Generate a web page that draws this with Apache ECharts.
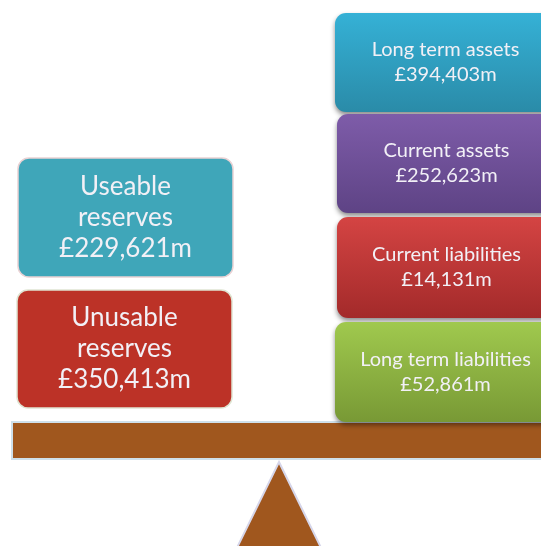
<!DOCTYPE html>
<html>
<head>
<meta charset="utf-8">
<script src="https://cdn.jsdelivr.net/npm/echarts@6/dist/echarts.min.js"></script>
<style>html,body{margin:0;padding:0;background:#fff}#main{width:541px;height:546px}</style>
</head>
<body>
<div id="main"></div>
<script>
// reserves (left pan) and balance sheet items (right pan), £m
var reserveNames = ['Useable\nreserves', 'Unusable\nreserves'];
var reserveValues = [229621, 350413];
var balanceNames = ['Long term assets', 'Current assets', 'Current liabilities', 'Long term liabilities'];
var balanceValues = [394403, 252623, 14131, 52861];

// layout in pixel units of the hidden axes
var leftBoxes = [[18, 158, 233, 277], [17, 290, 232, 408]];
var rightBoxes = [[335, 13, 556, 112], [337, 114, 556, 213], [337, 217, 556, 318], [335, 322, 556, 422]];
var leftColors = ['#3fa6b9', '#bc3227'];
var leftBorders = ['#ead2d4', '#dfe5d3'];
var rightColors = [['#35b1d6', '#2a8ba8'], ['#7e5ca9', '#5e4385'], ['#d44443', '#a32a2a'], ['#a0c94e', '#789935']];

function money(v) { return '£' + v.toLocaleString('en-GB') + 'm'; }

var chart = echarts.init(document.getElementById('main'));

function box(api, r, fill, stroke, text, size, lh, shadow) {
    var p0 = api.coord([r[0], r[1]]), p1 = api.coord([r[2], r[3]]);
    return {
        type: 'group',
        children: [{
            type: 'rect',
            shape: { x: p0[0], y: p0[1], width: p1[0] - p0[0], height: p1[1] - p0[1], r: 11 },
            style: shadow ? { fill: fill, shadowBlur: 5, shadowOffsetY: 3, shadowColor: 'rgba(0,0,0,0.45)' }
                          : { fill: fill, stroke: stroke, lineWidth: 1.5 }
        }, {
            type: 'text',
            style: {
                x: (p0[0] + p1[0]) / 2, y: (p0[1] + p1[1]) / 2,
                text: text, fill: '#f2f0f6', font: size + 'px Lato', lineHeight: lh,
                align: 'center', verticalAlign: 'middle'
            }
        }]
    };
}

chart.setOption({
    animation: false,
    grid: { left: 0, right: 0, top: 0, bottom: 0 },
    xAxis: { type: 'value', min: 0, max: 541, show: false },
    yAxis: { type: 'value', min: 0, max: 546, inverse: true, show: false },
    series: [{
        // beam and fulcrum
        type: 'custom',
        data: [[0]],
        renderItem: function (params, api) {
            var a = api.coord([12, 422]), b = api.coord([545, 459]);
            var t = api.coord([279, 462]), bl = api.coord([231, 560]), br = api.coord([327, 560]);
            return {
                type: 'group',
                children: [{
                    type: 'polygon',
                    shape: { points: [t, br, bl] },
                    style: { fill: '#a0571e', stroke: '#d6d6ea', lineWidth: 2 }
                }, {
                    type: 'rect',
                    shape: { x: a[0], y: a[1], width: b[0] - a[0], height: b[1] - a[1] },
                    style: { fill: '#a0571e', stroke: '#cfe0ea', lineWidth: 2 }
                }]
            };
        }
    }, {
        type: 'custom',
        name: 'Reserves',
        data: reserveValues.map(function (v, i) { return [i, v]; }),
        renderItem: function (params, api) {
            var i = api.value(0);
            return box(api, leftBoxes[i], leftColors[i], leftBorders[i],
                reserveNames[i] + '\n' + money(reserveValues[i]), 26, 31, false);
        }
    }, {
        type: 'custom',
        name: 'Balance sheet',
        data: balanceValues.map(function (v, i) { return [i, v]; }),
        renderItem: function (params, api) {
            var i = api.value(0), c = rightColors[i];
            var fill = new echarts.graphic.LinearGradient(0, 0, 0, 1, [
                { offset: 0, color: c[0] }, { offset: 1, color: c[1] }
            ]);
            return box(api, rightBoxes[i], fill, null,
                balanceNames[i] + '\n' + money(balanceValues[i]), 20, 25, true);
        }
    }]
});
</script>
</body>
</html>
